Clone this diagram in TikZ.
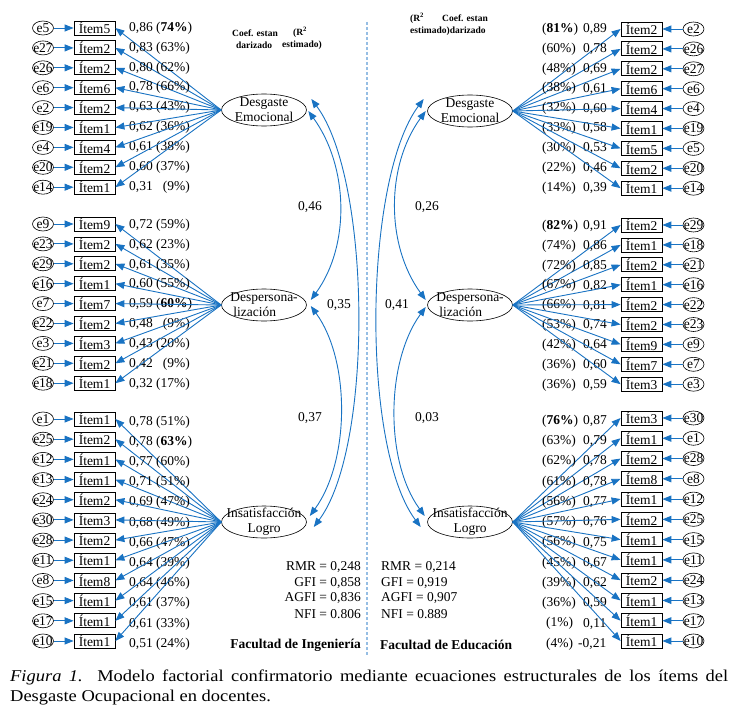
\documentclass[tikz,border=0pt]{standalone}
\usepackage{fontspec}
\setmainfont{Liberation Serif}
\newfontfamily\capfont[FakeStretch=1.12]{Liberation Serif}
\usetikzlibrary{shapes.geometric,arrows.meta,calc}
\definecolor{semblue}{RGB}{25,115,195}
\definecolor{divblue}{RGB}{150,190,228}
\begin{document}
\begin{tikzpicture}[x=1pt,y=-1pt,
 txt/.style={font=\fontsize{13.5}{15}\selectfont},
 itembox/.style={txt,draw,line width=0.8pt,minimum width=41pt,minimum height=14pt,inner sep=0pt},
 errc/.style={txt,draw,ellipse,line width=0.6pt,minimum width=21pt,minimum height=14pt,inner sep=0pt},
 latent/.style={draw,ellipse,line width=0.6pt,minimum width=85pt,minimum height=32pt,inner sep=0pt},
 lattext/.style={txt,align=center,inner sep=0pt},
 lbl/.style={txt,inner sep=0pt},
 hdr/.style={font=\bfseries\fontsize{9.5}{11}\selectfont,inner sep=0pt},
 arr/.style={semblue,line width=0.9pt,-{Triangle[length=9pt,width=7pt]}},
 darr/.style={semblue,line width=0.9pt,{Triangle[length=9pt,width=7pt]}-{Triangle[length=9pt,width=7pt]}},
]
\useasboundingbox (0,0) rectangle (738,725);
\fill[white] (0,0) rectangle (738,725);

% divider
\coordinate (divtop) at (367,22);
\coordinate (divbot) at (367,655);
\draw[divblue,line width=1.2pt,dash pattern=on 3pt off 2pt] (divtop) -- (divbot);

% latent variables
\node[latent,label={[lattext]center:Desgaste\\Emocional}] (DEL) at (264,110) {};
\node[latent,label={[lattext,align=left]center:Despersona-\\\hspace*{3pt}lización}] (DPL) at (264,305) {};
\node[latent,label={[lattext]center:Insatisfacción\\Logro}] (ILL) at (264,522) {};
\node[latent,label={[lattext]center:Desgaste\\Emocional}] (DER) at (470,111) {};
\node[latent,label={[lattext,align=left]center:Despersona-\\\hspace*{3pt}lización}] (DPR) at (470,305) {};
\node[latent,label={[lattext]center:Insatisfacción\\Logro}] (ILR) at (470,522) {};

% ---------- LEFT: Desgaste Emocional ----------
\foreach \e/\itm/\lab [count=\i from 0] in {
 e5/Ítem5/{0,86 (\textbf{74\%})},
 e27/Ítem2/{0,83 (63\%)},
 e26/Ítem2/{0,80 (62\%)},
 e6/Ítem6/{0,78 (66\%)},
 e2/Ítem2/{0,63 (43\%)},
 e19/Ítem1/{0,62 (36\%)},
 e4/Ítem4/{0,61 (38\%)},
 e20/Ítem2/{0,60 (37\%)},
 e14/Ítem1/{0,31 \phantom{0}(9\%)}}{
 \pgfmathsetmacro\yy{28+19.9*\i}
 \node[errc] (eA\i) at (43,\yy) {\makebox[0pt]{\e}};
 \node[itembox] (iA\i) at (94.5,\yy) {\itm};
 \node[lbl,anchor=west] (lA\i) at (129,\yy) {\lab};
 \draw[arr] (eA\i) -- (iA\i);
 \draw[arr] (DEL.west) -- (iA\i.east);
}

% ---------- LEFT: Despersonalizacion ----------
\foreach \e/\itm/\lab [count=\i from 0] in {
 e9/Ítem9/{0,72 (59\%)},
 e23/Ítem2/{0,62 (23\%)},
 e29/Ítem2/{0,61 (35\%)},
 e16/Ítem1/{0,60 (55\%)},
 e7/Ítem7/{0,59 (\textbf{60\%})},
 e22/Ítem2/{0,48 \phantom{0}(9\%)},
 e3/Ítem3/{0,43 (20\%)},
 e21/Ítem2/{0,42 \phantom{0}(9\%)},
 e18/Ítem1/{0,32 (17\%)}}{
 \pgfmathsetmacro\yy{224+19.9*\i}
 \node[errc] (eB\i) at (43,\yy) {\makebox[0pt]{\e}};
 \node[itembox] (iB\i) at (94.5,\yy) {\itm};
 \node[lbl,anchor=west] (lB\i) at (129,\yy+1) {\lab};
 \draw[arr] (eB\i) -- (iB\i);
 \draw[arr] (DPL.west) -- (iB\i.east);
}

% ---------- LEFT: Insatisfaccion Logro ----------
\foreach \e/\itm/\lab [count=\i from 0] in {
 e1/Ítem1/{0,78 (51\%)},
 e25/Ítem2/{0,78 (\textbf{63\%})},
 e12/Ítem1/{0,77 (60\%)},
 e13/Ítem1/{0,71 (51\%)},
 e24/Ítem2/{0,69 (47\%)},
 e30/Ítem3/{0,68 (49\%)},
 e28/Ítem2/{0,66 (47\%)},
 e11/Ítem1/{0,64 (39\%)},
 e8/Ítem8/{0,64 (46\%)},
 e15/Ítem1/{0,61 (37\%)},
 e17/Ítem1/{0,61 (33\%)},
 e10/Ítem1/{0,51 (24\%)}}{
 \pgfmathsetmacro\yy{419+20.18*\i}
 \node[errc] (eC\i) at (43,\yy) {\makebox[0pt]{\e}};
 \node[itembox] (iC\i) at (94.5,\yy) {\itm};
 \node[lbl,anchor=west] (lC\i) at (129,\yy+3) {\lab};
 \draw[arr] (eC\i) -- (iC\i);
 \draw[arr] (ILL.west) -- (iC\i.east);
}

% ---------- RIGHT: Desgaste Emocional ----------
\foreach \e/\itm/\pc/\val [count=\i from 0] in {
 e2/Ítem2/{(\textbf{81\%})}/{0,89},
 e26/Ítem2/{(60\%)}/{0,78},
 e27/Ítem2/{(48\%)}/{0,69},
 e6/Ítem6/{(38\%)}/{0,61},
 e4/Ítem4/{(32\%)}/{0,60},
 e19/Ítem1/{(33\%)}/{0,58},
 e5/Ítem5/{(30\%)}/{0,53},
 e20/Ítem2/{(22\%)}/{0,46},
 e14/Ítem1/{(14\%)}/{0,39}}{
 \pgfmathsetmacro\yy{29+19.9*\i}
 \node[errc] (eD\i) at (693.5,\yy) {\makebox[0pt]{\e}};
 \node[itembox] (iD\i) at (641.5,\yy) {\itm};
 \node[lbl,anchor=west] (pD\i) at (542,\yy) {\pc};
 \node[lbl,anchor=west] (vD\i) at (583,\yy) {\val};
 \draw[arr] (eD\i) -- (iD\i);
 \draw[arr] (DER.east) -- (iD\i.west);
}

% ---------- RIGHT: Despersonalizacion ----------
\foreach \e/\itm/\pc/\val [count=\i from 0] in {
 e29/Ítem2/{(\textbf{82\%})}/{0,91},
 e18/Ítem1/{(74\%)}/{0,86},
 e21/Ítem2/{(72\%)}/{0,85},
 e16/Ítem1/{(67\%)}/{0,82},
 e22/Ítem2/{(66\%)}/{0,81},
 e23/Ítem2/{(53\%)}/{0,74},
 e9/Ítem9/{(42\%)}/{0,64},
 e7/Ítem7/{(36\%)}/{0,60},
 e3/Ítem3/{(36\%)}/{0,59}}{
 \pgfmathsetmacro\yy{225+19.9*\i}
 \node[errc] (eE\i) at (693.5,\yy) {\makebox[0pt]{\e}};
 \node[itembox] (iE\i) at (641.5,\yy) {\itm};
 \node[lbl,anchor=west] (pE\i) at (542,\yy+1) {\pc};
 \node[lbl,anchor=west] (vE\i) at (583,\yy+1) {\val};
 \draw[arr] (eE\i) -- (iE\i);
 \draw[arr] (DPR.east) -- (iE\i.west);
}

% ---------- RIGHT: Insatisfaccion Logro ----------
\foreach \e/\itm/\px/\pc/\vx/\val [count=\i from 0] in {
 e30/Ítem3/542/{(\textbf{76\%})}/583/{0,87},
 e1/Ítem1/542/{(63\%)}/583/{0,79},
 e28/Ítem2/542/{(62\%)}/583/{0,78},
 e8/Ítem8/542/{(61\%)}/583/{0,78},
 e12/Ítem1/542/{(56\%)}/583/{0,77},
 e25/Ítem2/542/{(57\%)}/583/{0,76},
 e15/Ítem1/542/{(56\%)}/583/{0,75},
 e11/Ítem1/542/{(45\%)}/583/{0,67},
 e24/Ítem2/542/{(39\%)}/583/{0,62},
 e13/Ítem1/542/{(36\%)}/583/{0,59},
 e17/Ítem1/546/{(1\%)}/583/{0,11},
 e10/Ítem1/546/{(4\%)}/578/{-0,21}}{
 \pgfmathsetmacro\yy{418+20.27*\i}
 \node[errc] (eF\i) at (693.5,\yy) {\makebox[0pt]{\e}};
 \node[itembox] (iF\i) at (641.5,\yy) {\itm};
 \node[lbl,anchor=west] (pF\i) at (\px,\yy+3) {\pc};
 \node[lbl,anchor=west] (vF\i) at (\vx,\yy+3) {\val};
 \draw[arr] (eF\i) -- (iF\i);
 \draw[arr] (ILR.east) -- (iF\i.west);
}

% ---------- covariances left ----------
\draw[darr] ($(DEL.east)+(1.5,1)$) .. controls +(40,55) and +(40,-55) .. ($(DPL.east)+(4,-5)$);
\draw[darr] ($(DEL.east)+(4.5,-11)$) .. controls +(60,80) and +(60,-80) .. ($(ILL.east)+(7,5)$);
\draw[darr] ($(DPL.east)+(4,1)$) .. controls +(40,55) and +(40,-55) .. ($(ILL.east)+(3,-6)$);
\node[lbl] (cL1) at (310,207) {0,46};
\node[lbl] (cL2) at (339,305) {0,35};
\node[lbl] (cL3) at (310,418) {0,37};

% ---------- covariances right ----------
\draw[darr] ($(DER.west)+(-1.5,0)$) .. controls +(-40,55) and +(-40,-55) .. ($(DPR.west)+(-1.5,-5)$);
\draw[darr] ($(DER.west)+(-3.5,-12)$) .. controls +(-60,80) and +(-60,-80) .. ($(ILR.west)+(-6.5,5)$);
\draw[darr] ($(DPR.west)+(-1.5,2)$) .. controls +(-40,55) and +(-40,-55) .. ($(ILR.west)+(-2.5,-6)$);
\node[lbl] (cR1) at (427,207) {0,26};
\node[lbl] (cR2) at (397,305) {0,41};
\node[lbl] (cR3) at (427,418) {0,03};

% ---------- headers ----------
\node[hdr,anchor=west] (hL1) at (232,33) {Coef. estan};
\node[hdr,anchor=west] (hL2) at (293,32) {(R\textsuperscript{2}};
\node[hdr,anchor=west] (hL3) at (236,45) {darizado};
\node[hdr,anchor=west] (hL4) at (282,45) {estimado)};
\node[hdr,anchor=west] (hR1) at (410,18) {(R\textsuperscript{2}};
\node[hdr,anchor=west] (hR2) at (442,18) {Coef. estan};
\node[hdr,anchor=west] (hR3) at (410,31) {estimado)darizado};

% ---------- fit indices ----------
\node[lbl,anchor=east] (sL1) at (361,567) {RMR = 0,248};
\node[lbl,anchor=east] (sL2) at (361,583) {GFI = 0,858};
\node[lbl,anchor=east] (sL3) at (361,598) {AGFI = 0,836};
\node[lbl,anchor=east] (sL4) at (361,614) {NFI = 0.806};
\node[lbl,anchor=east,font=\bfseries\fontsize{13.5}{15}\selectfont] (fL) at (361,645) {Facultad de Ingeniería};
\node[lbl,anchor=west] (sR1) at (381,567) {RMR = 0,214};
\node[lbl,anchor=west] (sR2) at (381,583) {GFI = 0,919};
\node[lbl,anchor=west] (sR3) at (381,598) {AGFI = 0,907};
\node[lbl,anchor=west] (sR4) at (381,614) {NFI = 0.889};
\node[lbl,anchor=west,font=\bfseries\fontsize{13.5}{15}\selectfont] (fR) at (380,645) {Facultad de Educación};

% ---------- caption ----------
\node[anchor=north west,inner sep=0pt,text width=718pt,align=justify,font=\capfont\fontsize{16.5}{20}\selectfont] (cap) at (10,670)
 {\textit{Figura 1.} Modelo factorial confirmatorio mediante ecuaciones estructurales de los ítems del\linebreak Desgaste Ocupacional en docentes.};
\end{tikzpicture}
\end{document}
